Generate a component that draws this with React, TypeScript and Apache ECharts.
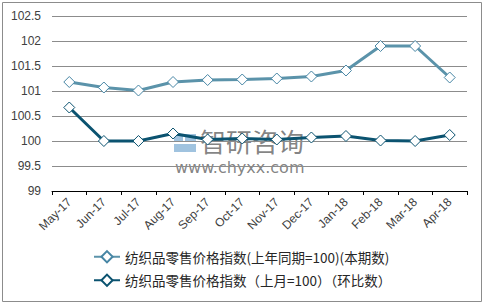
import React, { useEffect, useRef } from "react";
import * as echarts from "echarts";

const categories = ["May-17", "Jun-17", "Jul-17", "Aug-17", "Sep-17", "Oct-17", "Nov-17", "Dec-17", "Jan-18", "Feb-18", "Mar-18", "Apr-18"];
const yoyName = "纺织品零售价格指数(上年同期=100)(本期数)";
const momName = "纺织品零售价格指数（上月=100）（环比数）";
const yoyValues = [101.18, 101.07, 101.01, 101.18, 101.22, 101.23, 101.25, 101.29, 101.41, 101.9, 101.9, 101.27];
const momValues = [100.67, 100.0, 100.0, 100.15, 100.03, 100.05, 100.03, 100.07, 100.1, 100.01, 100.0, 100.12];
const yTicks = { min: 99, max: 102.5, interval: 0.5 };

export default function App() {
  const ref = useRef<HTMLDivElement>(null);
  useEffect(() => {
    document.body.style.margin = "0";
    const chart = echarts.init(ref.current!, null, { renderer: "svg" });
    const font = "'Liberation Sans', Arial, 'Noto Sans CJK SC', sans-serif";
    chart.setOption({
      animation: false,
      backgroundColor: "#fff",
      grid: { left: 52, right: 18, top: 16, height: 175, outerBoundsMode: "none", containLabel: false },
      xAxis: {
        type: "category",
        data: categories,
        boundaryGap: true,
        axisLine: { lineStyle: { color: "#000", width: 1 } },
        axisTick: { show: true, length: 4, lineStyle: { color: "#000" } },
        axisLabel: { rotate: 45, margin: 9, fontSize: 12, color: "#404040", fontFamily: font },
      },
      yAxis: {
        type: "value",
        min: yTicks.min,
        max: yTicks.max,
        interval: yTicks.interval,
        axisLine: { show: false },
        axisTick: { show: false },
        splitLine: { lineStyle: { color: "#8c8c8c", width: 1 } },
        axisLabel: { margin: 11, fontSize: 12, color: "#404040", fontFamily: font },
      },
      legend: {
        orient: "vertical",
        left: 88,
        top: 245,
        itemWidth: 26,
        itemHeight: 14,
        itemGap: 10,
        textStyle: { fontSize: 13.5, color: "#262626", fontFamily: "'Noto Sans CJK SC', sans-serif" },
        data: [yoyName, momName],
      },
      graphic: [
        {
          type: "rect",
          shape: { x: 2.5, y: 2.5, width: 479, height: 299 },
          style: { fill: "none", stroke: "#8c8c8c", lineWidth: 1 },
          silent: true,
          z: -10,
        },
        {
          type: "group",
          z: 100,
          silent: true,
          children: [
            { type: "rect", shape: { x: 174, y: 134, width: 9, height: 7 }, style: { fill: "rgba(120,170,210,0.7)" } },
            { type: "rect", shape: { x: 185, y: 134, width: 11, height: 7 }, style: { fill: "rgba(120,170,210,0.7)" } },
            { type: "rect", shape: { x: 174, y: 144, width: 22, height: 8 }, style: { fill: "rgba(120,170,210,0.7)" } },
            {
              type: "text",
              style: { text: "智研咨询", x: 200, y: 140, fontSize: 26, fill: "rgba(100,100,100,0.8)", verticalAlign: "middle", fontFamily: "'Noto Sans CJK SC', sans-serif" },
            },
            {
              type: "text",
              style: { text: "www.chyxx.com", x: 175, y: 167, fontSize: 16, fill: "rgba(100,100,100,0.8)", verticalAlign: "middle", fontFamily: "'DejaVu Sans', sans-serif" },
            },
          ],
        },
      ],
      series: [
        {
          name: yoyName,
          type: "line",
          data: yoyValues,
          symbol: "diamond",
          symbolSize: 11,
          lineStyle: { color: "#5b93aa", width: 3 },
          itemStyle: { color: "#fff", borderColor: "#4786a5", borderWidth: 1 },
          color: "#5b93aa",
        },
        {
          name: momName,
          type: "line",
          data: momValues,
          symbol: "diamond",
          symbolSize: 11,
          lineStyle: { color: "#0b5370", width: 3 },
          itemStyle: { color: "#fff", borderColor: "#0b5370", borderWidth: 1 },
          color: "#0b5370",
        },
      ],
    });
    return () => chart.dispose();
  }, []);
  return <div ref={ref} style={{ width: 485, height: 306 }} />;
}
